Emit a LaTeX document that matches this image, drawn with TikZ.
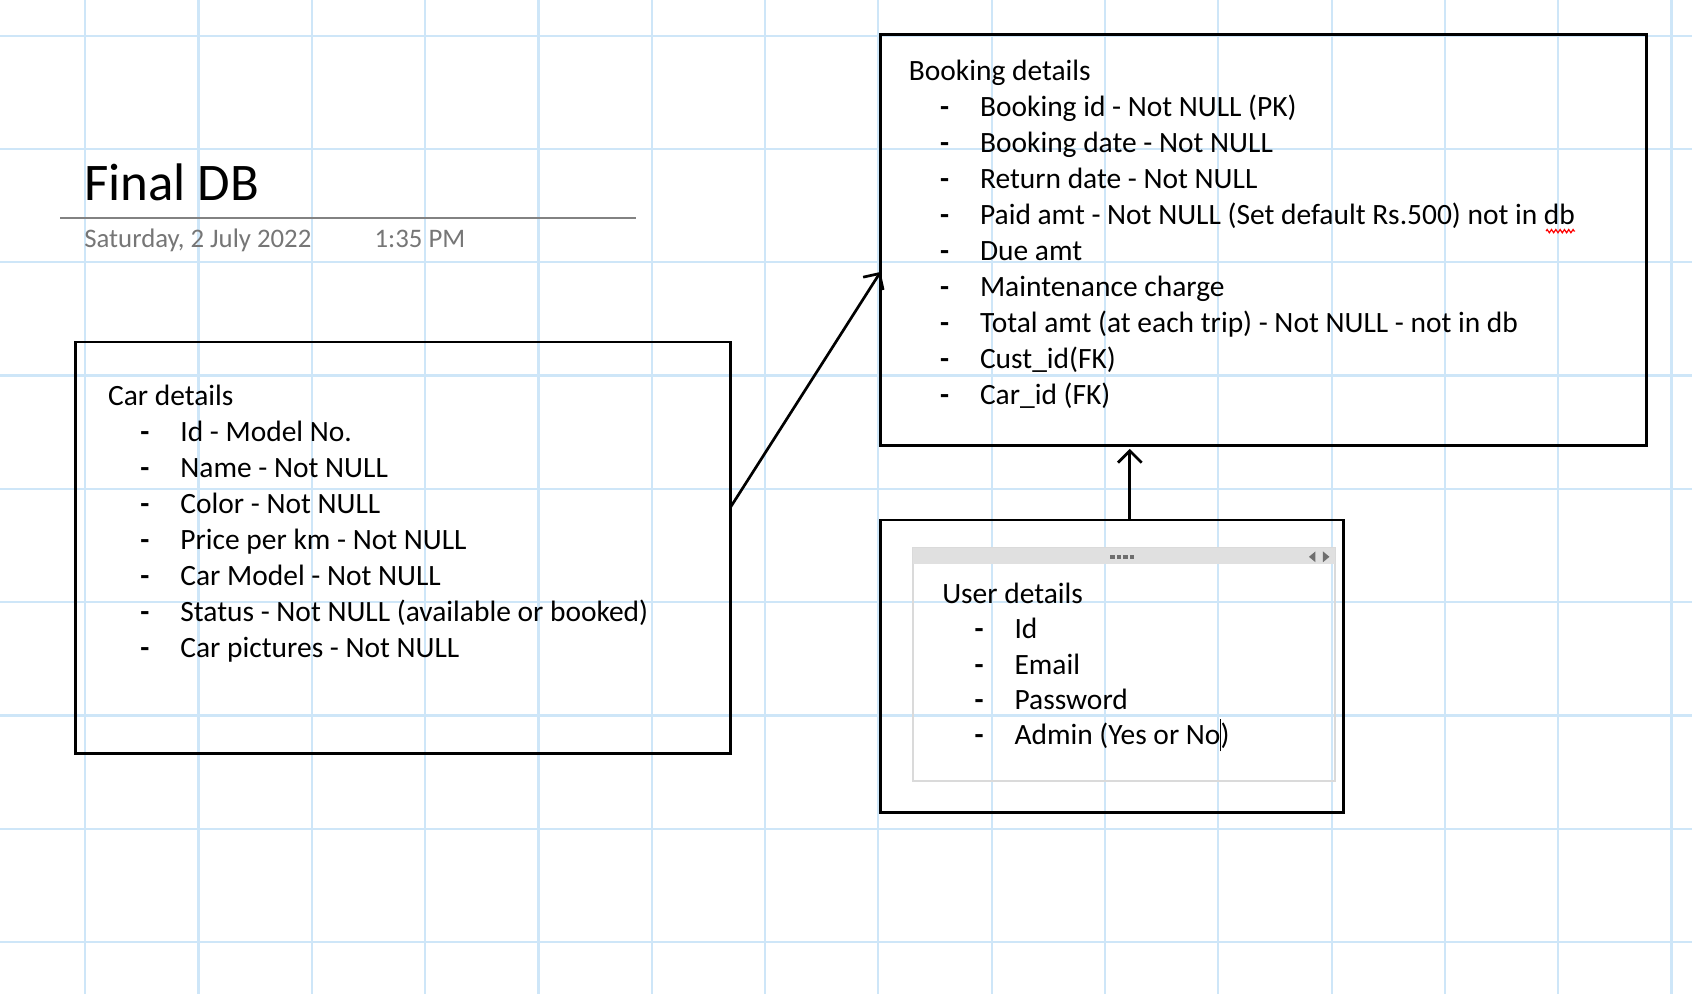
\documentclass[tikz,border=0pt]{standalone}
\usepackage{fontspec}
\setmainfont{Carlito}
\usetikzlibrary{arrows.meta,decorations.pathmorphing}
\definecolor{gridblue}{RGB}{206,230,248}
\definecolor{titlegray}{RGB}{118,118,118}
\definecolor{rulegray}{RGB}{130,130,130}
\definecolor{framegray}{RGB}{218,218,218}
\definecolor{bargray}{RGB}{224,224,224}
\definecolor{dotgray}{RGB}{110,110,110}
\newcommand\bodyfont{\fontsize{27.3}{33}\selectfont}
\tikzset{
  gridline/.style={draw=gridblue, line width=2pt},
  tablebox/.style={draw=black, line width=2.5pt, inner sep=0pt, outer sep=0pt, anchor=north west},
  bodytext/.style={anchor=base west, inner sep=0pt, font=\bodyfont},
  dashmark/.style={anchor=base west, inner sep=0pt, font=\bodyfont\bfseries},
  link/.style={draw=black, line width=2.5pt, -{Straight Barb[length=11pt,width=22pt,line width=2.5pt]}},
  squiggle/.style={draw=red, line width=1.1pt, decorate, decoration={zigzag, amplitude=1.5pt, segment length=4pt}},
}
\begin{document}
\begin{tikzpicture}[x=1pt,y=-1pt]
\useasboundingbox (0,0) rectangle (1568,921);
\fill[white] (0,0) rectangle (1568,921);
% grid
\foreach \i in {0,...,14} \draw[gridline] ({79+105*\i},0) -- ({79+105*\i},921);
\foreach \j in {0,...,8} \draw[gridline] (0,{33+105*\j}) -- (1568,{33+105*\j});

% title
\node[anchor=base west, inner sep=0pt, font=\fontsize{49}{58}\selectfont] (title) at (78,186) {Final DB};
\coordinate (rulestart) at (56,202);
\coordinate (ruleend) at (589,202);
\draw[rulegray, line width=1.6pt] (rulestart) -- (ruleend);
\node[anchor=base west, inner sep=0pt, text=titlegray, font=\fontsize{24.8}{29}\selectfont] (date) at (78,229) {Saturday, 2 July 2022};
\node[anchor=base west, inner sep=0pt, text=titlegray, font=\fontsize{24.8}{29}\selectfont] (time) at (347,229) {1:35 PM};

% Car details
\node[tablebox, minimum width=607pt, minimum height=381pt] (car) at (70,317) {};
\node[bodytext] (carhead) at (100,376) {Car details};
\foreach \t [count=\k] in {{Id - Model No.},{Name - Not NULL},{Color - Not NULL},{Price per km - Not NULL},{Car Model - Not NULL},{Status - Not NULL (available or booked)},{Car pictures - Not NULL}}{
  \node[dashmark] (cardash\k) at (130,{376+33.3*\k}) {-};
  \node[bodytext] (caritem\k) at (167,{376+33.3*\k}) {\t};
}

% Booking details
\node[tablebox, minimum width=710pt, minimum height=381pt] (book) at (816,32) {};
\node[bodytext] (bookhead) at (842,75) {Booking details};
\foreach \t [count=\k] in {{Booking id - Not NULL (PK)},{Booking date - Not NULL},{Return date - Not NULL},{Paid amt - Not NULL (Set default Rs.500) not in db},{Due amt},{Maintenance charge},{Total amt (at each trip) - Not NULL - not in db},{Cust\_id(FK)},{Car\_id (FK)}}{
  \node[dashmark] (bookdash\k) at (871,{75+33.3*\k}) {-};
  \node[bodytext] (bookitem\k) at (908,{75+33.3*\k}) {\t};
}
\draw[squiggle] ([shift={(-27,6)}]bookitem4.base east) -- ([shift={(0,6)}]bookitem4.base east);

% User details
\node[tablebox, minimum width=429pt, minimum height=271pt] (user) at (816,482) {};
\node[draw=framegray, line width=2pt, inner sep=0pt, outer sep=0pt, anchor=north west, minimum width=391pt, minimum height=216pt] (frame) at (846,508) {};
\node[fill=bargray, inner sep=0pt, outer sep=0pt, anchor=north west, minimum width=391pt, minimum height=15pt] (bar) at (846,508) {};
\foreach \d in {0,1,2,3} \fill[dotgray] ({1029+6*\d},514) rectangle ++(4,4);
\fill[dotgray] (1213,516) -- (1219,511) -- (1219,521) -- cycle;
\fill[dotgray] (1232,516) -- (1226,511) -- (1226,521) -- cycle;
\node[bodytext] (userhead) at (873,559) {User details};
\foreach \t [count=\k] in {{Id},{Email},{Password},{Admin (Yes or No\makebox[0pt]{\rule[-6pt]{1.3pt}{30pt}})}}{
  \node[dashmark] (userdash\k) at (903,{559+32.8*\k}) {-};
  \node[bodytext] (useritem\k) at (940,{559+32.8*\k}) {\t};
}

% connectors
\draw[link] (car.east |- 0,470) -- (book.west |- 0,252);
\draw[link, shorten >=3pt] (1047,0 |- user.north) -- (1047,0 |- book.south);
\end{tikzpicture}
\end{document}
